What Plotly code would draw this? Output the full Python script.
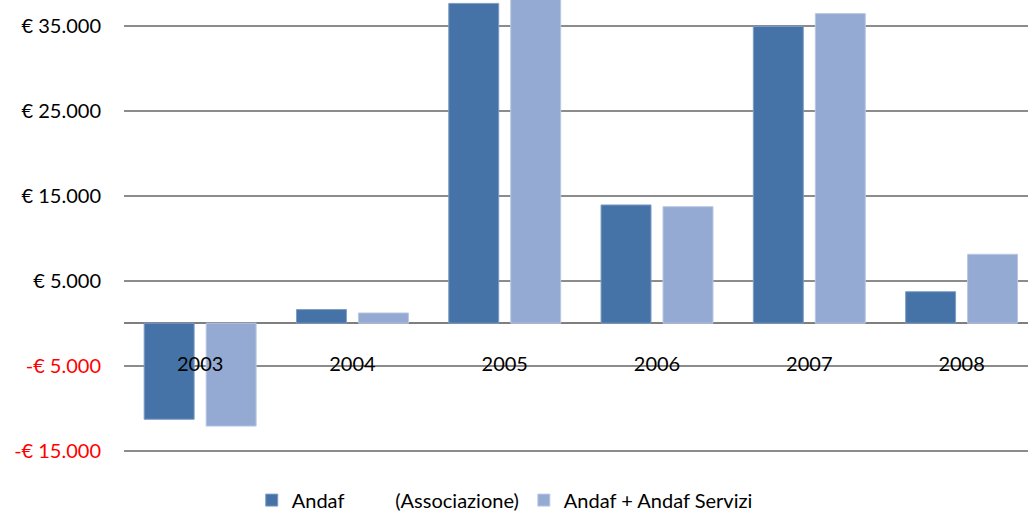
import plotly.graph_objects as go

years = ["2003", "2004", "2005", "2006", "2007", "2008"]
andaf = [-11300, 1600, 37600, 13900, 34900, 3700]
andaf_servizi = [-12100, 1200, 38600, 13700, 36400, 8100]
tick_vals = [-15000, -5000, 5000, 15000, 25000, 35000]
tick_text = ['<span style="color:#ff0000">-€ 15.000</span>',
             '<span style="color:#ff0000">-€ 5.000</span>',
             '€ 5.000', '€ 15.000', '€ 25.000', '€ 35.000']

FONT = "Lato"
YMIN, YMAX = -15500, 38000
fig = go.Figure()
fig.add_trace(go.Bar(x=years, y=andaf,
                     name="Andaf" + "\u00a0" * 10 + "(Associazione)",
                     marker=dict(color="#4573A7", line=dict(color="#7f9cc4", width=1))))
fig.add_trace(go.Bar(x=years, y=andaf_servizi, name="Andaf + Andaf Servizi",
                     marker=dict(color="#95AAD2", line=dict(color="#b8c8e3", width=1))))

fig.update_layout(
    width=1028, height=514,
    margin=dict(l=124, r=0, t=0, b=59),
    paper_bgcolor="white", plot_bgcolor="white",
    font=dict(family=FONT, size=20, color="black"),
    barmode="group", bargap=0.186, bargroupgap=0.194,
    showlegend=True,
    legend=dict(orientation="h", xref="container", x=0.491, xanchor="center",
                yref="container", y=0.027, yanchor="middle",
                font=dict(family=FONT, size=20), itemwidth=30),
    xaxis=dict(range=[-0.5, 5.436], anchor="free", position=-YMIN / (YMAX - YMIN),
               showgrid=False, showline=False, ticks="", ticklabelstandoff=27,
               automargin=False, tickfont=dict(family=FONT, size=20)),
    yaxis=dict(range=[YMIN, YMAX], tickvals=tick_vals, ticktext=tick_text,
               showgrid=True, gridcolor="#8c8c8c", gridwidth=1.5,
               zeroline=True, zerolinecolor="#7f7f7f", zerolinewidth=2,
               ticks="", ticklabelstandoff=22, showline=False, automargin=False,
               tickfont=dict(family=FONT, size=20)),
)
fig.write_html("out.html", config={"displayModeBar": False},
               post_script="document.body.style.margin='0';document.body.style.overflow='hidden';")
